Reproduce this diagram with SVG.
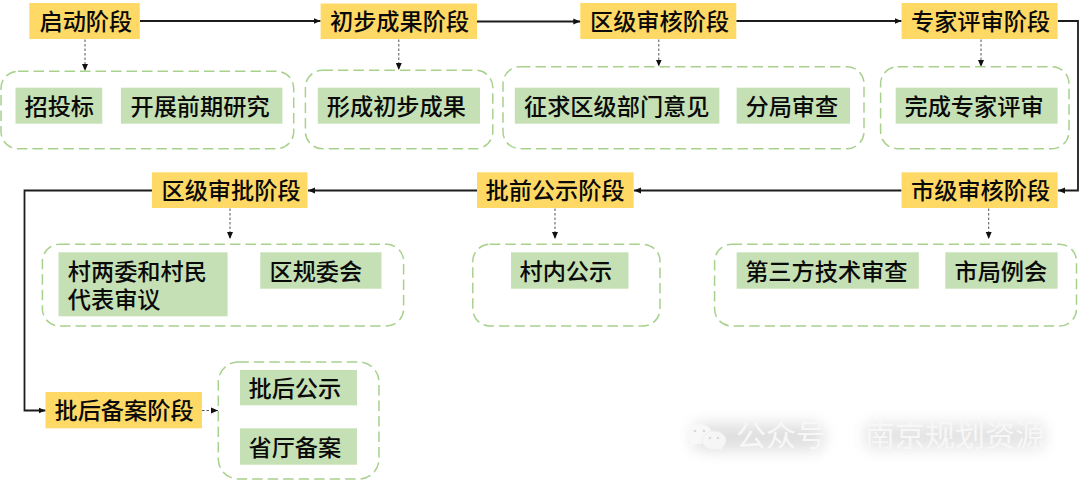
<svg xmlns="http://www.w3.org/2000/svg" width="1080" height="481" viewBox="0 0 1080 481">
<style>
text{font-family:"Noto Sans CJK SC","Noto Sans",sans-serif;font-size:23.200px;font-weight:500;fill:#0a0a0a}
.y{fill:#ffd966}
.g{fill:#c5e0b4}
.box{fill:#fff;stroke:#a9d18e;stroke-width:1.500;stroke-dasharray:10.500 5}
.solid{fill:none;stroke:#1c1c1c;stroke-width:1.800;marker-end:url(#a)}
.dot{fill:none;stroke:#555;stroke-width:1;stroke-dasharray:2.500 2;marker-end:url(#b)}
.wm{fill:#f7f7f7;font-size:30px;font-weight:400}
.wd{fill:#d8d8d8}
</style>
<defs>
<marker id="a" markerUnits="userSpaceOnUse" markerWidth="8" markerHeight="8" refX="7" refY="4" orient="auto"><path d="M0 1 L7 4 L0 7Z" fill="#111"/></marker>
<marker id="b" markerUnits="userSpaceOnUse" markerWidth="8" markerHeight="8" refX="7" refY="4" orient="auto"><path d="M0 1 L7 4 L0 7Z" fill="#111"/></marker>
<filter id="blur" x="-30%" y="-80%" width="160%" height="260%"><feGaussianBlur stdDeviation="8"/></filter>
</defs>
<g id="watermark">
<rect x="692" y="424" width="132" height="26" rx="10" fill="#dedede" filter="url(#blur)"/>
<rect x="866" y="424" width="178" height="24" fill="#e2e2e2" filter="url(#blur)"/>
<path d="M699 424c7.500 0 13 4.500 13 10s-5.500 10-13 10l-4 0-4 4 0-5.500c-3-2-5-5-5-8.500 0-5.500 5.500-10 13-10z" fill="#f8f8f8"/>
<path d="M714 431c6.500 0 12 4.300 12 9.500 0 3-1.700 5.500-4 7.200l1 4.300-4.500-2.800c-1.500.4-3 .6-4.500.6-6.500 0-12-4.100-12-9.300s5.500-9.500 12-9.500z" fill="#f6f6f6" stroke="#ececec" stroke-width=".8"/>
<circle class="wd" cx="695" cy="431" r="1.300"/><circle class="wd" cx="704" cy="431" r="1.300"/>
<circle class="wd" cx="710" cy="438" r="1.200"/><circle class="wd" cx="718" cy="438" r="1.200"/>
<text class="wm" x="736" y="446">公众号</text>
<text class="wm" x="865" y="446">南京规划资源</text>
</g>
<g id="connectors">
<path class="solid" d="M140 21H320.500"/>
<path class="solid" d="M477 21.500H580.300"/>
<path class="solid" d="M736.300 21H901.500"/>
<path class="solid" d="M1057.800 21H1078V190.500H1058"/>
<path class="solid" d="M901.500 190.500H634"/>
<path class="solid" d="M477 190.500H308"/>
<path class="solid" d="M152 190.500H24.500V410.500H45.500"/>
<path class="dot" d="M85 39.500V71"/>
<path class="dot" d="M398.800 39.500V70"/>
<path class="dot" d="M658.800 39.500V66.500"/>
<path class="dot" d="M981 39.500V67"/>
<path class="dot" d="M230 208.500V239"/>
<path class="dot" d="M555 208.500V239"/>
<path class="dot" d="M988.700 208.500V239"/>
<path class="dot" d="M202 410.500H218"/>
</g>
<g id="stage-start"><rect class="y" x="29.300" y="3" width="110.500" height="36"/><text x="39.500" y="29.500">启动阶段</text></g>
<g id="stage-initial"><rect class="y" x="320.600" y="3.500" width="156.400" height="35.500"/><text x="330" y="29.500">初步成果阶段</text></g>
<g id="stage-district-review"><rect class="y" x="580.300" y="3" width="156" height="36"/><text x="590" y="29.500">区级审核阶段</text></g>
<g id="stage-expert"><rect class="y" x="901.600" y="3" width="156" height="36"/><text x="911" y="29.500">专家评审阶段</text></g>
<g id="stage-city"><rect class="y" x="901.600" y="172.300" width="156" height="35.700"/><text x="911" y="198.500">市级审核阶段</text></g>
<g id="stage-prepublic"><rect class="y" x="477" y="172.300" width="156.700" height="35.700"/><text x="485.500" y="198.500">批前公示阶段</text></g>
<g id="stage-district-approve"><rect class="y" x="151.900" y="172.300" width="155.600" height="35.700"/><text x="161.500" y="198.500">区级审批阶段</text></g>
<g id="stage-filing"><rect class="y" x="45.500" y="392" width="156.500" height="36.300"/><text x="54.500" y="418.500">批后备案阶段</text></g>
<g id="group-start"><rect class="box" x="1" y="71.300" width="292.700" height="77.400" rx="17"/>
<rect class="g" x="15.500" y="87.700" width="86.800" height="36"/><text x="24.500" y="114.500">招投标</text>
<rect class="g" x="120.900" y="87.700" width="161.500" height="36"/><text x="130.500" y="114.500">开展前期研究</text></g>
<g id="group-initial"><rect class="box" x="305.400" y="70.300" width="187.400" height="78.400" rx="17"/>
<rect class="g" x="317.800" y="87.700" width="162.200" height="36"/><text x="326.800" y="114.500">形成初步成果</text></g>
<g id="group-district-review"><rect class="box" x="503" y="66.700" width="361" height="82" rx="17"/>
<rect class="g" x="514.800" y="87.700" width="204.600" height="36"/><text x="524" y="114.500">征求区级部门意见</text>
<rect class="g" x="736.600" y="87.700" width="113.400" height="36"/><text x="745.500" y="114.500">分局审查</text></g>
<g id="group-expert"><rect class="box" x="880.600" y="66.700" width="188.400" height="82" rx="17"/>
<rect class="g" x="895.700" y="87.700" width="161.900" height="36"/><text x="904.500" y="114.500">完成专家评审</text></g>
<g id="group-district-approve"><rect class="box" x="42.400" y="244.300" width="361.200" height="81.700" rx="17"/>
<rect class="g" x="58.500" y="252.300" width="169.100" height="64"/><text x="67.800" y="280">村两委和村民</text><text x="67.800" y="308">代表审议</text>
<rect class="g" x="260.300" y="252.300" width="121.200" height="36.400"/><text x="269.500" y="280">区规委会</text></g>
<g id="group-prepublic"><rect class="box" x="472.800" y="244.300" width="187.200" height="81.700" rx="17"/>
<rect class="g" x="511" y="252.300" width="117.500" height="36.400"/><text x="519.500" y="280">村内公示</text></g>
<g id="group-city"><rect class="box" x="714.600" y="244.300" width="361.900" height="81.700" rx="17"/>
<rect class="g" x="736.600" y="252.300" width="182.200" height="36.400"/><text x="745.200" y="280">第三方技术审查</text>
<rect class="g" x="945.300" y="252.300" width="112.300" height="36.400"/><text x="954.500" y="280">市局例会</text></g>
<g id="group-filing"><rect class="box" x="218.300" y="362" width="160.700" height="117" rx="20"/>
<rect class="g" x="240" y="370" width="117" height="35.300"/><text x="248.500" y="397">批后公示</text>
<rect class="g" x="240" y="428.300" width="117" height="36.400"/><text x="248.500" y="456">省厅备案</text></g>
</svg>
